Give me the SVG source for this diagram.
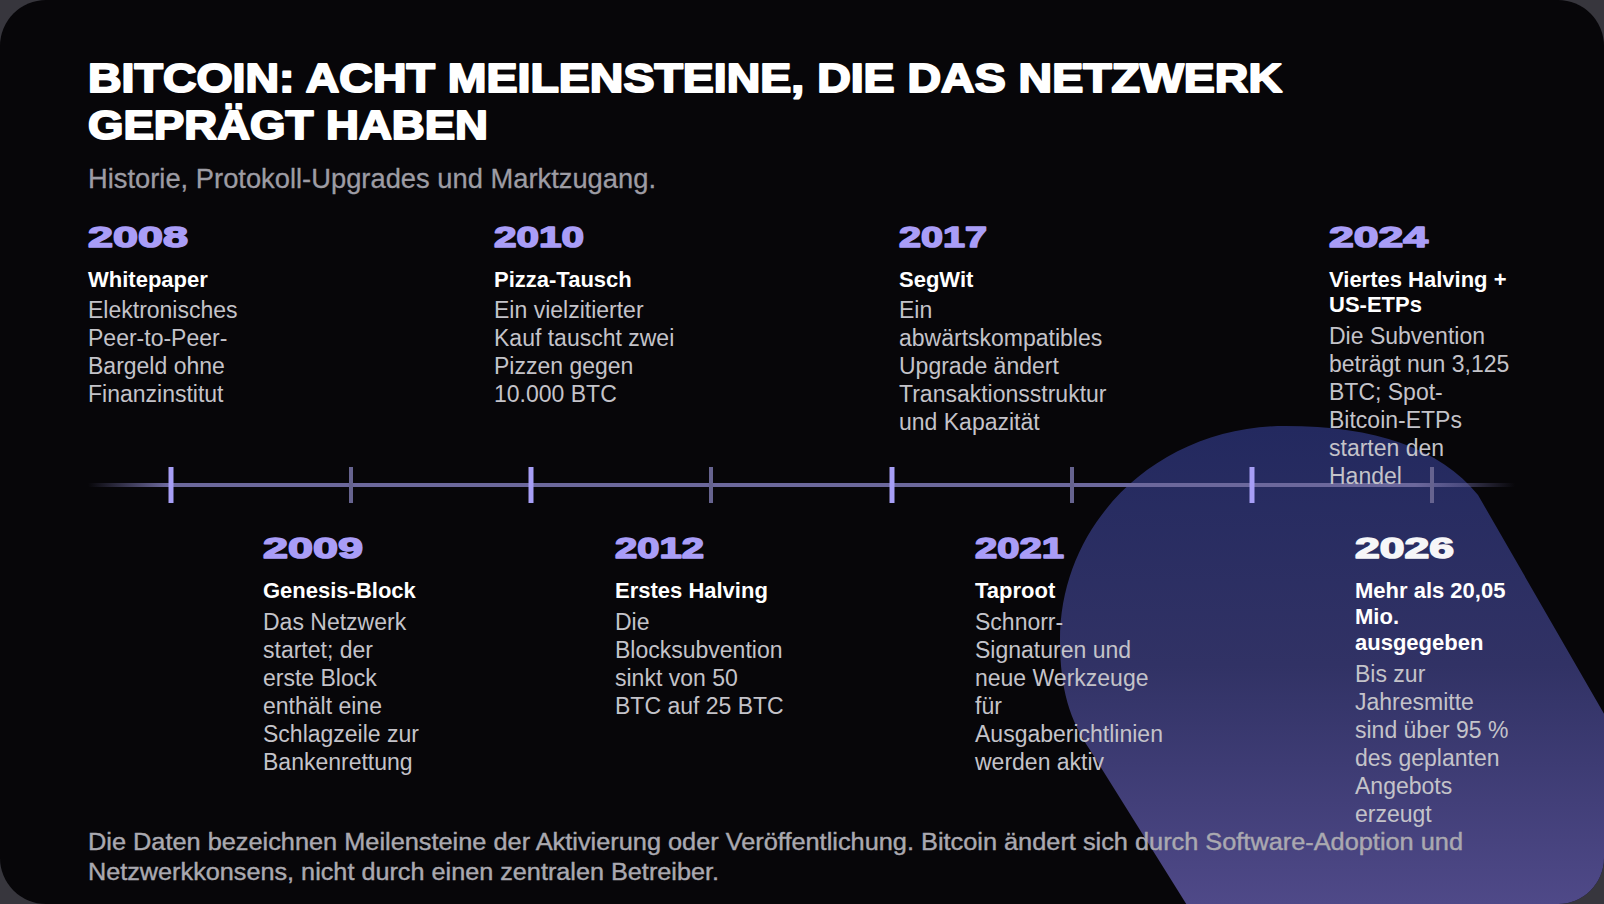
<svg xmlns="http://www.w3.org/2000/svg" width="1604" height="904" viewBox="0 0 1604 904">
<defs>
<style>
.ttl{font-family:"Liberation Sans",Arial,sans-serif;font-weight:900;fill:#ffffff;font-size:41px;stroke:#ffffff;stroke-width:2;stroke-linejoin:round}
.sub{font-family:"Liberation Sans",Arial,sans-serif;fill:#9d9ca4;font-size:27px;stroke:#9d9ca4;stroke-width:0.3}
.yr{font-family:"Liberation Sans",Arial,sans-serif;font-weight:900;fill:#a99df7;font-size:30px;stroke:#a99df7;stroke-width:1.6;stroke-linejoin:round}
.yrw{fill:#f6f6f8;stroke:#f6f6f8}
.hd{font-family:"Liberation Sans",Arial,sans-serif;font-weight:700;fill:#ffffff;font-size:22px}
.bd{font-family:"Liberation Sans",Arial,sans-serif;fill:#c4c3c9;font-size:23px}
.ft{font-family:"Liberation Sans",Arial,sans-serif;fill:#aaa9b0;font-size:23px;stroke:#aaa9b0;stroke-width:0.4}
.tkM{stroke:#a79ef6;stroke-width:5}
.tkm{stroke:#66638f;stroke-width:4}
</style>
<clipPath id="card"><rect x="0" y="0" width="1604" height="904" rx="46" ry="46"/></clipPath>
<linearGradient id="blobG" x1="0" y1="426" x2="0" y2="904" gradientUnits="userSpaceOnUse">
<stop offset="0" stop-color="#23295f"/>
<stop offset="0.5" stop-color="#313265"/>
<stop offset="1" stop-color="#4f4988"/>
</linearGradient>
<linearGradient id="lineG" x1="88" y1="0" x2="1515" y2="0" gradientUnits="userSpaceOnUse">
<stop offset="0" stop-color="#6c689c" stop-opacity="0"/>
<stop offset="0.055" stop-color="#6c689c" stop-opacity="1"/>
<stop offset="0.93" stop-color="#6c689c" stop-opacity="1"/>
<stop offset="1" stop-color="#6c689c" stop-opacity="0"/>
</linearGradient>
</defs>
<rect x="0" y="0" width="1604" height="904" fill="#37363d"/>
<rect x="0" y="0" width="1604" height="904" rx="46" ry="46" fill="#070609"/>
<g clip-path="url(#card)">
<path id="blob" d="M1285 426 C1375 426 1440 448 1478 495 L1740 950 L1215 950 L1090 750 C1070 720 1060 690 1060 640 C1060 520 1160 426 1285 426 Z" fill="url(#blobG)"/>
</g>
<g id="header">
<text class="ttl" x="88" y="92" textLength="1194" lengthAdjust="spacingAndGlyphs">BITCOIN: ACHT MEILENSTEINE, DIE DAS NETZWERK</text>
<text class="ttl" x="88" y="139" textLength="400" lengthAdjust="spacingAndGlyphs">GEPRÄGT HABEN</text>
<text class="sub" x="88" y="188" textLength="568" lengthAdjust="spacingAndGlyphs">Historie, Protokoll-Upgrades und Marktzugang.</text>
</g>
<g id="connectors">
<line x1="88" y1="485" x2="1515" y2="485" stroke="url(#lineG)" stroke-width="4"/>
<line class="tkM" x1="171" y1="467" x2="171" y2="503"/>
<line class="tkm" x1="351" y1="467" x2="351" y2="503"/>
<line class="tkM" x1="531" y1="467" x2="531" y2="503"/>
<line class="tkm" x1="711" y1="467" x2="711" y2="503"/>
<line class="tkM" x1="892" y1="467" x2="892" y2="503"/>
<line class="tkm" x1="1072" y1="467" x2="1072" y2="503"/>
<line class="tkM" x1="1252" y1="467" x2="1252" y2="503"/>
<line class="tkm" x1="1432" y1="467" x2="1432" y2="503"/>
</g>
<g id="m2008">
<text class="yr" x="88" y="247" textLength="100" lengthAdjust="spacingAndGlyphs">2008</text>
<text class="hd" x="88" y="287">Whitepaper</text>
<text class="bd" x="88" y="318">Elektronisches</text>
<text class="bd" x="88" y="346">Peer-to-Peer-</text>
<text class="bd" x="88" y="374">Bargeld ohne</text>
<text class="bd" x="88" y="402">Finanzinstitut</text>
</g>
<g id="m2010">
<text class="yr" x="494" y="247" textLength="90" lengthAdjust="spacingAndGlyphs">2010</text>
<text class="hd" x="494" y="287">Pizza-Tausch</text>
<text class="bd" x="494" y="318">Ein vielzitierter</text>
<text class="bd" x="494" y="346">Kauf tauscht zwei</text>
<text class="bd" x="494" y="374">Pizzen gegen</text>
<text class="bd" x="494" y="402">10.000 BTC</text>
</g>
<g id="m2017">
<text class="yr" x="899" y="247" textLength="88" lengthAdjust="spacingAndGlyphs">2017</text>
<text class="hd" x="899" y="287">SegWit</text>
<text class="bd" x="899" y="318">Ein</text>
<text class="bd" x="899" y="346">abwärtskompatibles</text>
<text class="bd" x="899" y="374">Upgrade ändert</text>
<text class="bd" x="899" y="402">Transaktionsstruktur</text>
<text class="bd" x="899" y="430">und Kapazität</text>
</g>
<g id="m2024">
<text class="yr" x="1329" y="247" textLength="99" lengthAdjust="spacingAndGlyphs">2024</text>
<text class="hd" x="1329" y="287">Viertes Halving +</text>
<text class="hd" x="1329" y="312">US-ETPs</text>
<text class="bd" x="1329" y="344">Die Subvention</text>
<text class="bd" x="1329" y="372">beträgt nun 3,125</text>
<text class="bd" x="1329" y="400">BTC; Spot-</text>
<text class="bd" x="1329" y="428">Bitcoin-ETPs</text>
<text class="bd" x="1329" y="456">starten den</text>
<text class="bd" x="1329" y="484">Handel</text>
</g>
<g id="m2009">
<text class="yr" x="263" y="558" textLength="100" lengthAdjust="spacingAndGlyphs">2009</text>
<text class="hd" x="263" y="598">Genesis-Block</text>
<text class="bd" x="263" y="630">Das Netzwerk</text>
<text class="bd" x="263" y="658">startet; der</text>
<text class="bd" x="263" y="686">erste Block</text>
<text class="bd" x="263" y="714">enthält eine</text>
<text class="bd" x="263" y="742">Schlagzeile zur</text>
<text class="bd" x="263" y="770">Bankenrettung</text>
</g>
<g id="m2012">
<text class="yr" x="615" y="558" textLength="89" lengthAdjust="spacingAndGlyphs">2012</text>
<text class="hd" x="615" y="598">Erstes Halving</text>
<text class="bd" x="615" y="630">Die</text>
<text class="bd" x="615" y="658">Blocksubvention</text>
<text class="bd" x="615" y="686">sinkt von 50</text>
<text class="bd" x="615" y="714">BTC auf 25 BTC</text>
</g>
<g id="m2021">
<text class="yr" x="975" y="558" textLength="89" lengthAdjust="spacingAndGlyphs">2021</text>
<text class="hd" x="975" y="598">Taproot</text>
<text class="bd" x="975" y="630">Schnorr-</text>
<text class="bd" x="975" y="658">Signaturen und</text>
<text class="bd" x="975" y="686">neue Werkzeuge</text>
<text class="bd" x="975" y="714">für</text>
<text class="bd" x="975" y="742">Ausgaberichtlinien</text>
<text class="bd" x="975" y="770">werden aktiv</text>
</g>
<g id="m2026">
<text class="yr yrw" x="1355" y="558" textLength="99" lengthAdjust="spacingAndGlyphs">2026</text>
<text class="hd" x="1355" y="598">Mehr als 20,05</text>
<text class="hd" x="1355" y="624">Mio.</text>
<text class="hd" x="1355" y="650">ausgegeben</text>
<text class="bd" x="1355" y="682">Bis zur</text>
<text class="bd" x="1355" y="710">Jahresmitte</text>
<text class="bd" x="1355" y="738">sind über 95 %</text>
<text class="bd" x="1355" y="766">des geplanten</text>
<text class="bd" x="1355" y="794">Angebots</text>
<text class="bd" x="1355" y="822">erzeugt</text>
</g>
<g id="footer">
<text class="ft" x="88" y="850" textLength="1375" lengthAdjust="spacingAndGlyphs">Die Daten bezeichnen Meilensteine der Aktivierung oder Veröffentlichung. Bitcoin ändert sich durch Software-Adoption und</text>
<text class="ft" x="88" y="880" textLength="631" lengthAdjust="spacingAndGlyphs">Netzwerkkonsens, nicht durch einen zentralen Betreiber.</text>
</g>
</svg>
